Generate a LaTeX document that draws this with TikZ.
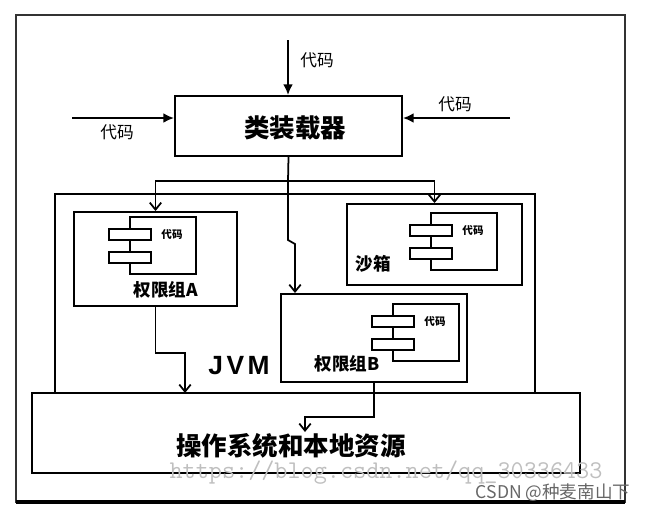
\documentclass[tikz,border=0pt]{standalone}
\usepackage{fontspec}
\newfontfamily\cjk{Noto Sans CJK SC}
\newfontfamily\jvmfont{Liberation Sans}
\usetikzlibrary{arrows.meta,fit}
\tikzset{
  box/.style={draw, line width=1.1pt, inner sep=0pt},
  part/.style={draw, line width=1pt, fill=white},
  feed/.style={-{Latex[length=6pt,width=5.5pt]}, line width=1.1pt},
  flow/.style={-{Straight Barb[length=4pt,width=6.5pt]}, line width=1pt},
  codetxt/.style={font=\cjk\fontsize{9.5}{11}\selectfont, inner sep=0pt},
  codesm/.style={font=\cjk\bfseries\fontsize{6}{7}\selectfont, inner sep=0pt},
  grptxt/.style={font=\cjk\bfseries\fontsize{10}{12}\selectfont, inner sep=0pt},
  bigtxt/.style={font=\cjk\bfseries\fontsize{14.5}{16}\selectfont, inner sep=0pt},
}
\begin{document}
\begin{tikzpicture}[x=0.02cm, y=-0.02cm]
  \useasboundingbox (0,0) rectangle (655,514);
  % Frame
  \draw[black!80, line width=1pt] (16,15) rectangle (625,502);
  \draw[line width=2.6pt] (16,502) -- (625,502);
  % Boxes
  \node[box, fit={(175,96) (402,156)}] (loader) {};
  \node[box, fit={(55,194) (535,393)}] (jvm) {};
  \node[box, fill=white, fit={(32,393) (580,473)}] (os) {};
  \node[box, fit={(74,212) (237,306)}] (boxA) {};
  \node[box, fit={(347,204) (522,285)}] (sandbox) {};
  \node[box, fit={(281,294) (467,382)}] (boxB) {};
  % Code parts
  \foreach \x/\y/\n in {130/217/A, 431/213/S, 393/304/B} {
    \draw[part] (\x,\y) rectangle ++(66,57);
    \draw[part] (\x-21,\y+12) rectangle ++(42,11);
    \draw[part] (\x-21,\y+35) rectangle ++(42,11);
    \node[codesm] (code\n) at (\x+42,\y+17) {代码};
  }
  % Labels
  \node[bigtxt] (loadertxt) at (295,128) {类装载器};
  \node[bigtxt] (ostxt) at (291,446) {操作系统和本地资源};
  \node[grptxt] (grpA) at (166,290) {权限组A};
  \node[grptxt] (grpB) at (347,364) {权限组B};
  \node[grptxt] (sandtxt) at (373,264) {沙箱};
  \node[font=\jvmfont\bfseries\fontsize{15}{16}\selectfont, inner sep=0pt] (jvmtxt) at (239,366) {J\kern2pt V\kern2pt M};
  % Incoming code
  \coordinate (srcT) at (288,40);
  \coordinate (srcL) at (72,118);
  \coordinate (srcR) at (510,118);
  \draw[feed] (srcT) -- (srcT |- loader.north);
  \draw[feed] (srcL) -- (loader.west |- srcL);
  \draw[feed] (srcR) -- (loader.east |- srcR);
  \node[codetxt] (codeT) at (317,60) {代码};
  \node[codetxt] (codeL) at (117,132) {代码};
  \node[codetxt] (codeR) at (455,104) {代码};
  % Loader to groups
  \coordinate (split) at (288,181);
  \coordinate (jog) at (295,244);
  \draw[line width=1pt] (loader.south) -- (split);
  \draw[flow] (split) -| (boxA.north);
  \draw[flow] (split) -| (sandbox.north);
  \draw[flow] (split) -- (288,240) -- (jog) -- (jog |- boxB.north);
  % Groups to system
  \coordinate (inA) at (185,393);
  \coordinate (inB) at (305,432);
  \draw[flow] (boxA.south) -- ++(0,46) -| (inA);
  \draw[flow] (boxB.south) -- ++(0,34) -| (inB);
  % Watermarks
  \node[font=\ttfamily\fontsize{14.5}{16}\selectfont, text=black!25, inner sep=0pt] (url) at (386,473) {https://blog.csdn.net/qq\_30336433};
  \node[font=\cjk\fontsize{10}{12}\selectfont, text=black!60, inner sep=0pt] (csdn) at (553,493) {CSDN @种麦南山下};
\end{tikzpicture}
\end{document}
